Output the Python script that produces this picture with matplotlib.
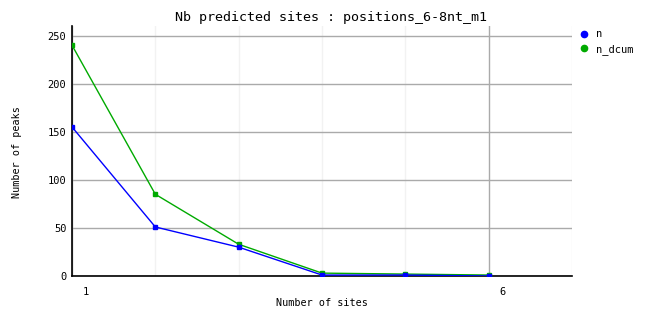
import matplotlib
matplotlib.use("Agg")
import matplotlib.pyplot as plt
from matplotlib.transforms import ScaledTranslation

# data
sites = [1, 2, 3, 4, 5, 6]
n = [155, 51, 30, 1, 1, 0]
n_dcum = [240, 85, 33, 3, 2, 1]
x_labels = [1, 6]
y_ticks = [0, 50, 100, 150, 200, 250]

plt.rcParams['font.family'] = ['DejaVu Sans Mono']

fig = plt.figure(figsize=(6.62, 3.28), dpi=100)
ax = fig.add_axes([72 / 662, 1 - 276 / 328, 500 / 662, 250 / 328])

ax.plot(sites, n_dcum, color='#00aa00', lw=1, marker='s', ms=3, label='n_dcum', zorder=3)
ax.plot(sites, n, color='#0000ff', lw=1, marker='s', ms=3, label='n', zorder=4)

ax.set_xlim(1, 7)
ax.set_ylim(0, 260)

# grid
ax.set_yticks(y_ticks)
ax.yaxis.grid(True, color='#aaaaaa', lw=1)
ax.set_xticks([2, 3, 4, 5, 7], minor=True)
ax.xaxis.grid(True, which='minor', color='#f2f2f2', lw=1)
ax.set_xticks(x_labels)
ax.xaxis.grid(True, which='major', color='#aaaaaa', lw=1)
ax.set_axisbelow(True)

ax.tick_params(which='both', length=0, labelsize=7.5, colors='black')
ax.tick_params(axis='x', pad=8)
ax.tick_params(axis='y', pad=4)
for lab in ax.get_xticklabels():
    lab.set_transform(lab.get_transform() + ScaledTranslation(14 / 100, 0, fig.dpi_scale_trans))

for s in ['top', 'right']:
    ax.spines[s].set_visible(False)
ax.spines['left'].set_linewidth(1.2)
ax.spines['bottom'].set_linewidth(1.2)

fig.text(331 / 662, 1 - 18 / 328, 'Nb predicted sites : positions_6-8nt_m1',
         ha='center', va='center', fontsize=9.6)
fig.text(322 / 662, 1 - 303 / 328, 'Number of sites', ha='center', va='center', fontsize=7.3)
fig.text(17 / 662, 1 - 152 / 328, 'Number of peaks', ha='center', va='center',
         rotation=90, fontsize=7.3)

h, l = ax.get_legend_handles_labels()
leg = fig.legend(h[::-1], l[::-1], loc='upper left', bbox_to_anchor=(576 / 662, 1 - 24 / 328),
                 frameon=False, fontsize=7.5, handlelength=0.6, handletextpad=0.8,
                 labelspacing=0.45, borderpad=0, markerscale=1.5)
for lh in leg.legend_handles:
    lh.set_linestyle('none')
    lh.set_marker('o')

fig.savefig('out.png', dpi=100)
